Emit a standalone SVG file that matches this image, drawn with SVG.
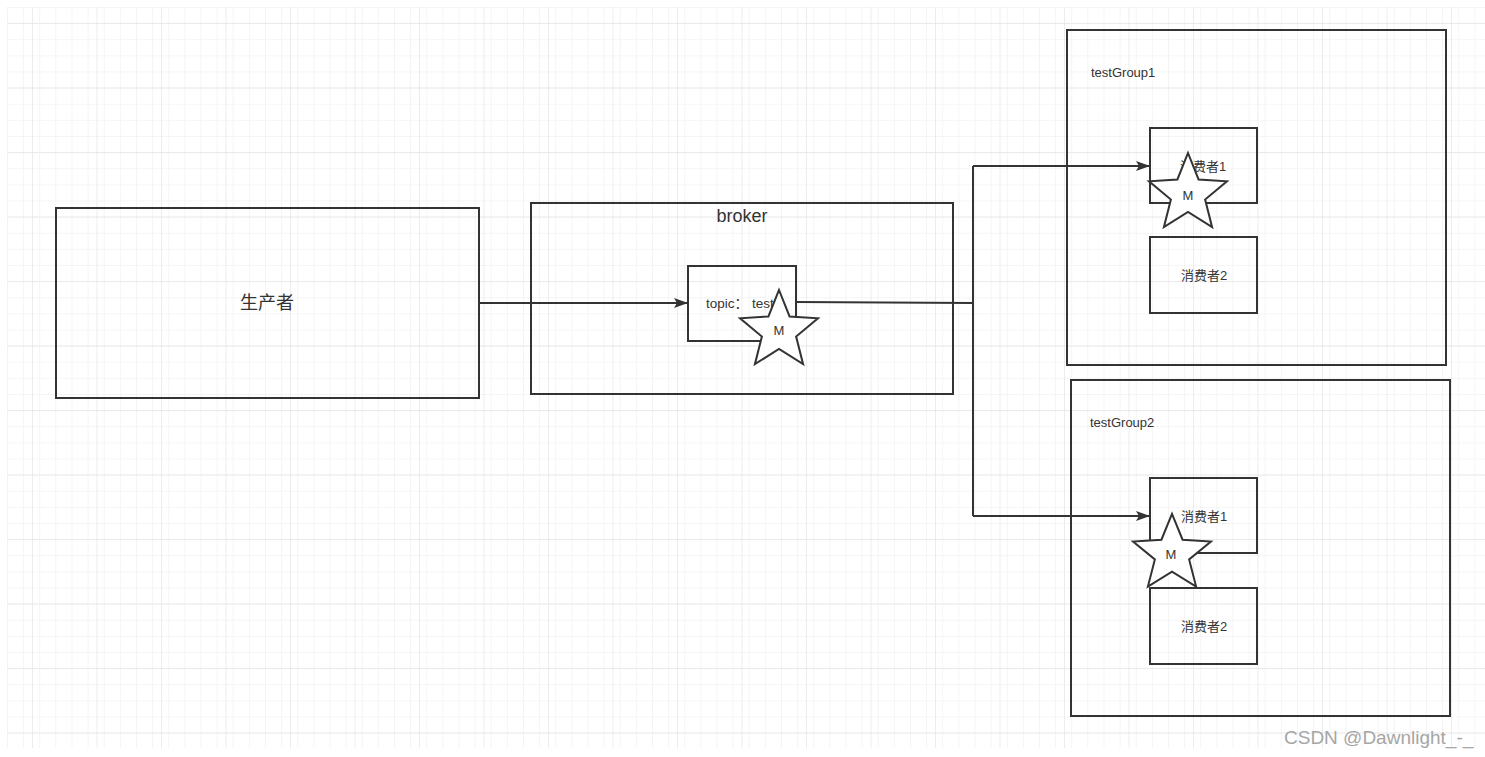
<svg xmlns="http://www.w3.org/2000/svg" width="1485" height="757" viewBox="0 0 1485 757">
<style>
.box{fill:none;stroke:#333;stroke-width:2}
.star{fill:#fff;stroke:#333;stroke-width:2;stroke-linejoin:miter}
.t{font-family:"Liberation Sans","Noto Sans CJK SC",sans-serif;fill:#333}
.c{text-anchor:middle;dominant-baseline:central}
.edge{fill:none;stroke:#333;stroke-width:2}
</style>
<defs>
<pattern id="minor" x="7" y="7" width="16.125" height="16.125" patternUnits="userSpaceOnUse">
<path d="M0 0H16.125M0 0V16.125" fill="none" stroke="#f2f2f2" stroke-width="1.5"/>
</pattern>
<pattern id="major" x="32" y="23" width="64.5" height="64.5" patternUnits="userSpaceOnUse">
<path d="M0 0H64.5M0 0V64.5" fill="none" stroke="#e6e6e6" stroke-width="1.5"/>
</pattern>
<polygon id="starShape" points="0,-41 10.58,-14.56 38.99,-12.67 17.12,5.56 24.1,33.17 0,18 -24.1,33.17 -17.12,5.56 -38.99,-12.67 -10.58,-14.56"/>
<marker id="arr" viewBox="0 0 14 10" refX="13" refY="5" markerWidth="14" markerHeight="10" markerUnits="userSpaceOnUse" orient="auto">
<path d="M0 0L14 5L0 10L3 5z" fill="#333"/>
</marker>
</defs>
<rect width="1485" height="757" fill="#fff"/>
<rect x="7" y="7" width="1478" height="741" fill="url(#minor)"/>
<rect x="7" y="7" width="1478" height="741" fill="url(#major)"/>

<g id="producer">
<rect class="box" x="56" y="208" width="423" height="190"/>
<text class="t c" x="267" y="303" font-size="18">生产者</text>
</g>

<g id="broker">
<rect class="box" x="531" y="203" width="422" height="191"/>
<text class="t c" x="742" y="216" font-size="18">broker</text>
</g>

<g id="topic">
<rect class="box" x="688" y="266" width="108" height="75"/>
<text class="t" x="706" y="308" font-size="13.5">topic：<tspan dx="4">test</tspan></text>
</g>

<g id="testGroup1">
<rect class="box" x="1067" y="30" width="379" height="335"/>
<text class="t" x="1091" y="77" font-size="13">testGroup1</text>
</g>
<g id="g1-consumer1">
<rect class="box" x="1150" y="128" width="107" height="75"/>
<text class="t c" x="1203" y="166" font-size="13">消费者1</text>
</g>
<g id="g1-consumer2">
<rect class="box" x="1150" y="237" width="107" height="76"/>
<text class="t c" x="1204" y="275" font-size="13">消费者2</text>
</g>

<g id="testGroup2">
<rect class="box" x="1071" y="380" width="379" height="336"/>
<text class="t" x="1090" y="427" font-size="13">testGroup2</text>
</g>
<g id="g2-consumer1">
<rect class="box" x="1150" y="478" width="107" height="75"/>
<text class="t c" x="1204" y="516" font-size="13">消费者1</text>
</g>
<g id="g2-consumer2">
<rect class="box" x="1150" y="588" width="107" height="76"/>
<text class="t c" x="1204" y="626" font-size="13">消费者2</text>
</g>

<g id="connectors">
<path class="edge" d="M479 303H687" marker-end="url(#arr)"/>
<path class="edge" d="M796 302L973 303"/>
<path class="edge" d="M973 166V516"/>
<path class="edge" d="M973 166H1149" marker-end="url(#arr)"/>
<path class="edge" d="M973 516H1149" marker-end="url(#arr)"/>
</g>

<g id="msg-broker">
<use href="#starShape" class="star" transform="translate(779,331)"/>
<text class="t c" x="779" y="330" font-size="13">M</text>
</g>
<g id="msg-group1">
<use href="#starShape" class="star" transform="translate(1188,194)"/>
<text class="t c" x="1188" y="195" font-size="13">M</text>
</g>
<g id="msg-group2">
<use href="#starShape" class="star" transform="translate(1172,554) scale(1.0,0.98)"/>
<text class="t c" x="1171" y="554" font-size="13">M</text>
</g>

<text class="t" x="1284" y="744" font-size="19" style="fill:#a6a6a6">CSDN @Dawnlight_-_</text>
</svg>
